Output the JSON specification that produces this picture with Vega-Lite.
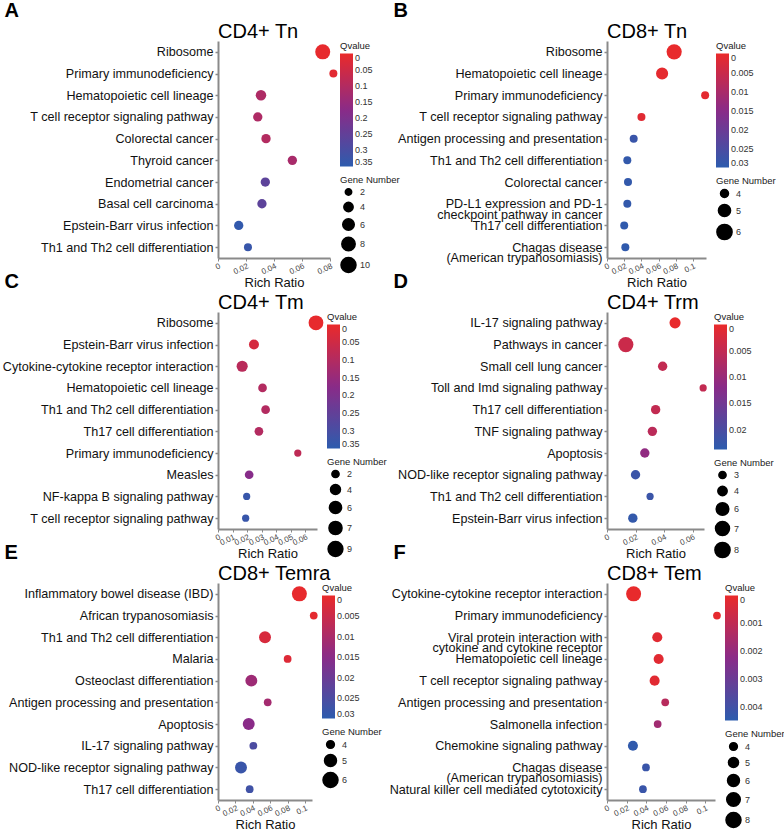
{
  "$schema": "https://vega.github.io/schema/vega-lite/v6.json",
  "padding": {"left": 2, "top": 0, "right": 0, "bottom": 0},
  "background": "white",
  "config": {
    "font": "Liberation Sans",
    "view": {"stroke": null},
    "title": {"font": "Liberation Sans", "color": "black", "fontSize": 20, "fontWeight": "normal", "anchor": "start", "frame": "group", "offset": -42},
    "axisY": {"domainColor": "#8a8a8a", "domainWidth": 2, "tickColor": "#8a8a8a", "tickSize": 3, "tickWidth": 1.5, "labelFontSize": 12.6, "labelColor": "#111", "labelPadding": 2, "labelLimit": 300, "grid": false, "labelLineHeight": 10.5},
    "axisX": {"domainColor": "#8a8a8a", "domainWidth": 2, "tickColor": "#8a8a8a", "tickSize": 3, "labelFontSize": 8, "labelColor": "#444", "labelAngle": -25, "labelPadding": 1, "titleFontSize": 13, "titleFontWeight": "normal", "titleColor": "#111", "titlePadding": 1, "grid": false, "labelFlush": false, "labelOverlap": false},
    "legend": {"titleFontSize": 9.5, "titleFontWeight": "normal", "titleColor": "#222", "labelFontSize": 9, "labelColor": "#333", "gradientThickness": 13, "symbolFillColor": "black", "symbolStrokeColor": "black", "symbolType": "circle", "symbolOpacity": 1, "labelOffset": 3, "titlePadding": 3, "padding": 0, "rowPadding": 0, "labelOverlap": false}
  },
  "datasets": {
    "A": [
      {"pathway": "Ribosome", "ratio": 0.0748, "qvalue": 0.005, "genes": 10},
      {"pathway": "Primary immunodeficiency", "ratio": 0.0824, "qvalue": 0.015, "genes": 3},
      {"pathway": "Hematopoietic cell lineage", "ratio": 0.0307, "qvalue": 0.11, "genes": 5},
      {"pathway": "T cell receptor signaling pathway", "ratio": 0.0284, "qvalue": 0.11, "genes": 4},
      {"pathway": "Colorectal cancer", "ratio": 0.0343, "qvalue": 0.10, "genes": 4},
      {"pathway": "Thyroid cancer", "ratio": 0.0531, "qvalue": 0.12, "genes": 4},
      {"pathway": "Endometrial cancer", "ratio": 0.0338, "qvalue": 0.26, "genes": 4},
      {"pathway": "Basal cell carcinoma", "ratio": 0.0314, "qvalue": 0.26, "genes": 4},
      {"pathway": "Epstein-Barr virus infection", "ratio": 0.0148, "qvalue": 0.34, "genes": 4},
      {"pathway": "Th1 and Th2 cell differentiation", "ratio": 0.0214, "qvalue": 0.33, "genes": 3}
    ],
    "B": [
      {"pathway": "Ribosome", "ratio": 0.078, "qvalue": 0.0003, "genes": 6},
      {"pathway": "Hematopoietic cell lineage", "ratio": 0.064, "qvalue": 0.0008, "genes": 5},
      {"pathway": "Primary immunodeficiency", "ratio": 0.114, "qvalue": 0.001, "genes": 4},
      {"pathway": "T cell receptor signaling pathway", "ratio": 0.040, "qvalue": 0.0015, "genes": 4},
      {"pathway": "Antigen processing and presentation", "ratio": 0.031, "qvalue": 0.028, "genes": 4},
      {"pathway": "Th1 and Th2 cell differentiation", "ratio": 0.0236, "qvalue": 0.029, "genes": 4},
      {"pathway": "Colorectal cancer", "ratio": 0.0244, "qvalue": 0.029, "genes": 4},
      {"pathway": "PD-L1 expression and PD-1\ncheckpoint pathway in cancer", "ratio": 0.0236, "qvalue": 0.029, "genes": 4},
      {"pathway": "Th17 cell differentiation", "ratio": 0.020, "qvalue": 0.0295, "genes": 4},
      {"pathway": "Chagas disease\n(American trypanosomiasis)", "ratio": 0.0213, "qvalue": 0.0295, "genes": 4}
    ],
    "C": [
      {"pathway": "Ribosome", "ratio": 0.0673, "qvalue": 0.005, "genes": 9},
      {"pathway": "Epstein-Barr virus infection", "ratio": 0.0247, "qvalue": 0.04, "genes": 4},
      {"pathway": "Cytokine-cytokine receptor interaction", "ratio": 0.0166, "qvalue": 0.09, "genes": 5},
      {"pathway": "Hematopoietic cell lineage", "ratio": 0.0306, "qvalue": 0.10, "genes": 3},
      {"pathway": "Th1 and Th2 cell differentiation", "ratio": 0.0327, "qvalue": 0.10, "genes": 3},
      {"pathway": "Th17 cell differentiation", "ratio": 0.0281, "qvalue": 0.10, "genes": 3},
      {"pathway": "Primary immunodeficiency", "ratio": 0.0548, "qvalue": 0.08, "genes": 2},
      {"pathway": "Measles", "ratio": 0.0214, "qvalue": 0.18, "genes": 3},
      {"pathway": "NF-kappa B signaling pathway", "ratio": 0.0197, "qvalue": 0.33, "genes": 2},
      {"pathway": "T cell receptor signaling pathway", "ratio": 0.019, "qvalue": 0.33, "genes": 2}
    ],
    "D": [
      {"pathway": "IL-17 signaling pathway", "ratio": 0.0477, "qvalue": 0.0003, "genes": 5},
      {"pathway": "Pathways in cancer", "ratio": 0.0132, "qvalue": 0.004, "genes": 8},
      {"pathway": "Small cell lung cancer", "ratio": 0.039, "qvalue": 0.005, "genes": 4},
      {"pathway": "Toll and Imd signaling pathway", "ratio": 0.0674, "qvalue": 0.005, "genes": 3},
      {"pathway": "Th17 cell differentiation", "ratio": 0.0341, "qvalue": 0.005, "genes": 4},
      {"pathway": "TNF signaling pathway", "ratio": 0.0318, "qvalue": 0.006, "genes": 4},
      {"pathway": "Apoptosis", "ratio": 0.0265, "qvalue": 0.011, "genes": 4},
      {"pathway": "NOD-like receptor signaling pathway", "ratio": 0.020, "qvalue": 0.022, "genes": 4},
      {"pathway": "Th1 and Th2 cell differentiation", "ratio": 0.0302, "qvalue": 0.022, "genes": 3},
      {"pathway": "Epstein-Barr virus infection", "ratio": 0.0181, "qvalue": 0.023, "genes": 4}
    ],
    "E": [
      {"pathway": "Inflammatory bowel disease (IBD)", "ratio": 0.0935, "qvalue": 0.0005, "genes": 6},
      {"pathway": "African trypanosomiasis", "ratio": 0.110, "qvalue": 0.001, "genes": 4},
      {"pathway": "Th1 and Th2 cell differentiation", "ratio": 0.054, "qvalue": 0.003, "genes": 5},
      {"pathway": "Malaria", "ratio": 0.080, "qvalue": 0.002, "genes": 4},
      {"pathway": "Osteoclast differentiation", "ratio": 0.0383, "qvalue": 0.012, "genes": 5},
      {"pathway": "Antigen processing and presentation", "ratio": 0.0571, "qvalue": 0.011, "genes": 4},
      {"pathway": "Apoptosis", "ratio": 0.0353, "qvalue": 0.015, "genes": 5},
      {"pathway": "IL-17 signaling pathway", "ratio": 0.0406, "qvalue": 0.025, "genes": 4},
      {"pathway": "NOD-like receptor signaling pathway", "ratio": 0.0264, "qvalue": 0.028, "genes": 5},
      {"pathway": "Th17 cell differentiation", "ratio": 0.0364, "qvalue": 0.027, "genes": 4}
    ],
    "F": [
      {"pathway": "Cytokine-cytokine receptor interaction", "ratio": 0.0271, "qvalue": 0.00005, "genes": 8},
      {"pathway": "Primary immunodeficiency", "ratio": 0.112, "qvalue": 0.0001, "genes": 4},
      {"pathway": "Viral protein interaction with\ncytokine and cytokine receptor", "ratio": 0.0512, "qvalue": 0.0002, "genes": 5},
      {"pathway": "Hematopoietic cell lineage", "ratio": 0.0526, "qvalue": 0.0002, "genes": 5},
      {"pathway": "T cell receptor signaling pathway", "ratio": 0.0485, "qvalue": 0.0002, "genes": 5},
      {"pathway": "Antigen processing and presentation", "ratio": 0.0593, "qvalue": 0.0012, "genes": 4},
      {"pathway": "Salmonella infection", "ratio": 0.0516, "qvalue": 0.0017, "genes": 4},
      {"pathway": "Chemokine signaling pathway", "ratio": 0.0264, "qvalue": 0.0044, "genes": 5},
      {"pathway": "Chagas disease\n(American trypanosomiasis)", "ratio": 0.0397, "qvalue": 0.0042, "genes": 4},
      {"pathway": "Natural killer cell mediated cytotoxicity", "ratio": 0.0366, "qvalue": 0.0042, "genes": 4}
    ]
  },
  "columns": 2,
  "bounds": "flush",
  "spacing": {"row": 54, "column": 277},
  "resolve": {"scale": {"color": "independent", "size": "independent"}},
  "concat": [
    {
      "title": "CD4+ Tn",
      "data": {"name": "A"},
      "width": 112, "height": 217,
      "encoding": {"y": {"field": "pathway", "type": "nominal", "sort": null, "axis": {"title": null, "labelExpr": "split(datum.label, '\\n')"}}},
      "layer": [
        {"mark": {"type": "circle", "opacity": 1},
         "encoding": {
          "x": {"field": "ratio", "type": "quantitative", "scale": {"domain": [0, 0.08], "nice": false}, "axis": {"title": "Rich Ratio", "values": [0, 0.02, 0.04, 0.06, 0.08], "format": ".2~g"}},
          "color": {"field": "qvalue", "type": "quantitative", "scale": {"domain": [0.35, 0.175, 0], "range": ["#2d5cae", "#8a2b88", "#ea2a2a"], "interpolate": "rgb", "nice": false, "zero": false}, "legend": {"title": "Qvalue", "values": [0, 0.05, 0.1, 0.15, 0.2, 0.25, 0.3, 0.35], "format": ".2~g", "gradientLength": 113, "offset": 10}},
          "size": {"field": "genes", "type": "quantitative", "scale": {"domain": [2, 10], "range": [41, 225], "zero": false, "nice": false}, "legend": {"title": "Gene Number", "values": [2, 4, 6, 8, 10], "format": "d", "offset": 1}}
         }},
        {"mark": {"type": "circle", "opacity": 0},
         "encoding": {"x": {"field": "ratio", "type": "quantitative", "axis": {"orient": "top", "title": "A", "labels": false, "ticks": false, "domain": false, "titleX": -214, "titleY": -41, "titleAlign": "left", "titleBaseline": "top", "titleAngle": 0, "titleFontSize": 20, "titleFontWeight": "bold", "titleColor": "black"}}}}
      ],
      "resolve": {"axis": {"x": "independent"}}
    },
    {
      "title": "CD8+ Tn",
      "data": {"name": "B"},
      "width": 99, "height": 217,
      "encoding": {"y": {"field": "pathway", "type": "nominal", "sort": null, "axis": {"title": null, "labelExpr": "split(datum.label, '\\n')"}}},
      "layer": [
        {"mark": {"type": "circle", "opacity": 1},
         "encoding": {
          "x": {"field": "ratio", "type": "quantitative", "scale": {"domain": [0, 0.115], "nice": false}, "axis": {"title": "Rich Ratio", "values": [0, 0.02, 0.04, 0.06, 0.08, 0.1], "format": ".2~g"}},
          "color": {"field": "qvalue", "type": "quantitative", "scale": {"domain": [0.03, 0.015, 0], "range": ["#2d5cae", "#8a2b88", "#ea2a2a"], "interpolate": "rgb", "nice": false, "zero": false}, "legend": {"title": "Qvalue", "values": [0, 0.005, 0.01, 0.015, 0.02, 0.025, 0.03], "format": ".2~g", "gradientLength": 114, "offset": 10}},
          "size": {"field": "genes", "type": "quantitative", "scale": {"domain": [4, 6], "range": [64, 231], "zero": false, "nice": false}, "legend": {"title": "Gene Number", "values": [4, 5, 6], "format": "d", "offset": 1}}
         }},
        {"mark": {"type": "circle", "opacity": 0},
         "encoding": {"x": {"field": "ratio", "type": "quantitative", "axis": {"orient": "top", "title": "B", "labels": false, "ticks": false, "domain": false, "titleX": -214, "titleY": -41, "titleAlign": "left", "titleBaseline": "top", "titleAngle": 0, "titleFontSize": 20, "titleFontWeight": "bold", "titleColor": "black"}}}}
      ],
      "resolve": {"axis": {"x": "independent"}}
    },
    {
      "title": "CD4+ Tm",
      "data": {"name": "C"},
      "width": 99, "height": 217,
      "encoding": {"y": {"field": "pathway", "type": "nominal", "sort": null, "axis": {"title": null, "labelExpr": "split(datum.label, '\\n')"}}},
      "layer": [
        {"mark": {"type": "circle", "opacity": 1},
         "encoding": {
          "x": {"field": "ratio", "type": "quantitative", "scale": {"domain": [0, 0.068], "nice": false}, "axis": {"title": "Rich Ratio", "values": [0, 0.01, 0.02, 0.03, 0.04, 0.05, 0.06], "format": ".2~g"}},
          "color": {"field": "qvalue", "type": "quantitative", "scale": {"domain": [0.35, 0.175, 0], "range": ["#2d5cae", "#8a2b88", "#ea2a2a"], "interpolate": "rgb", "nice": false, "zero": false}, "legend": {"title": "Qvalue", "values": [0, 0.05, 0.1, 0.15, 0.2, 0.25, 0.3, 0.35], "format": ".2~g", "gradientLength": 124, "offset": 10}},
          "size": {"field": "genes", "type": "quantitative", "scale": {"domain": [2, 9], "range": [52, 219], "zero": false, "nice": false}, "legend": {"title": "Gene Number", "values": [2, 4, 6, 7, 9], "format": "d", "offset": 1}}
         }},
        {"mark": {"type": "circle", "opacity": 0},
         "encoding": {"x": {"field": "ratio", "type": "quantitative", "axis": {"orient": "top", "title": "C", "labels": false, "ticks": false, "domain": false, "titleX": -214, "titleY": -41, "titleAlign": "left", "titleBaseline": "top", "titleAngle": 0, "titleFontSize": 20, "titleFontWeight": "bold", "titleColor": "black"}}}}
      ],
      "resolve": {"axis": {"x": "independent"}}
    },
    {
      "title": "CD4+ Trm",
      "data": {"name": "D"},
      "width": 97, "height": 217,
      "encoding": {"y": {"field": "pathway", "type": "nominal", "sort": null, "axis": {"title": null, "labelExpr": "split(datum.label, '\\n')"}}},
      "layer": [
        {"mark": {"type": "circle", "opacity": 1},
         "encoding": {
          "x": {"field": "ratio", "type": "quantitative", "scale": {"domain": [0, 0.068], "nice": false}, "axis": {"title": "Rich Ratio", "values": [0, 0.02, 0.04, 0.06], "format": ".2~g"}},
          "color": {"field": "qvalue", "type": "quantitative", "scale": {"domain": [0.0238, 0.0119, 0], "range": ["#2d5cae", "#8a2b88", "#ea2a2a"], "interpolate": "rgb", "nice": false, "zero": false}, "legend": {"title": "Qvalue", "values": [0, 0.005, 0.01, 0.015, 0.02], "format": ".2~g", "gradientLength": 125, "offset": 10}},
          "size": {"field": "genes", "type": "quantitative", "scale": {"domain": [3, 8], "range": [52, 231], "zero": false, "nice": false}, "legend": {"title": "Gene Number", "values": [3, 4, 6, 7, 8], "format": "d", "offset": 1}}
         }},
        {"mark": {"type": "circle", "opacity": 0},
         "encoding": {"x": {"field": "ratio", "type": "quantitative", "axis": {"orient": "top", "title": "D", "labels": false, "ticks": false, "domain": false, "titleX": -214, "titleY": -41, "titleAlign": "left", "titleBaseline": "top", "titleAngle": 0, "titleFontSize": 20, "titleFontWeight": "bold", "titleColor": "black"}}}}
      ],
      "resolve": {"axis": {"x": "independent"}}
    },
    {
      "title": "CD8+ Temra",
      "data": {"name": "E"},
      "width": 94, "height": 217,
      "encoding": {"y": {"field": "pathway", "type": "nominal", "sort": null, "axis": {"title": null, "labelExpr": "split(datum.label, '\\n')"}}},
      "layer": [
        {"mark": {"type": "circle", "opacity": 1},
         "encoding": {
          "x": {"field": "ratio", "type": "quantitative", "scale": {"domain": [0, 0.108], "nice": false}, "axis": {"title": "Rich Ratio", "values": [0, 0.02, 0.04, 0.06, 0.08, 0.1], "format": ".2~g"}},
          "color": {"field": "qvalue", "type": "quantitative", "scale": {"domain": [0.03, 0.015, 0], "range": ["#2d5cae", "#8a2b88", "#ea2a2a"], "interpolate": "rgb", "nice": false, "zero": false}, "legend": {"title": "Qvalue", "values": [0, 0.005, 0.01, 0.015, 0.02, 0.025, 0.03], "format": ".2~g", "gradientLength": 123, "offset": 10}},
          "size": {"field": "genes", "type": "quantitative", "scale": {"domain": [4, 6], "range": [60, 225], "zero": false, "nice": false}, "legend": {"title": "Gene Number", "values": [4, 5, 6], "format": "d", "offset": 1}}
         }},
        {"mark": {"type": "circle", "opacity": 0},
         "encoding": {"x": {"field": "ratio", "type": "quantitative", "axis": {"orient": "top", "title": "E", "labels": false, "ticks": false, "domain": false, "titleX": -214, "titleY": -41, "titleAlign": "left", "titleBaseline": "top", "titleAngle": 0, "titleFontSize": 20, "titleFontWeight": "bold", "titleColor": "black"}}}}
      ],
      "resolve": {"axis": {"x": "independent"}}
    },
    {
      "title": "CD8+ Tem",
      "data": {"name": "F"},
      "width": 108, "height": 217,
      "encoding": {"y": {"field": "pathway", "type": "nominal", "sort": null, "axis": {"title": null, "labelExpr": "split(datum.label, '\\n')"}}},
      "layer": [
        {"mark": {"type": "circle", "opacity": 1},
         "encoding": {
          "x": {"field": "ratio", "type": "quantitative", "scale": {"domain": [0, 0.11], "nice": false}, "axis": {"title": "Rich Ratio", "values": [0, 0.02, 0.04, 0.06, 0.08, 0.1], "format": ".2~g"}},
          "color": {"field": "qvalue", "type": "quantitative", "scale": {"domain": [0.0045, 0.00225, 0], "range": ["#2d5cae", "#8a2b88", "#ea2a2a"], "interpolate": "rgb", "nice": false, "zero": false}, "legend": {"title": "Qvalue", "values": [0, 0.001, 0.002, 0.003, 0.004], "format": ".2~g", "gradientLength": 125, "offset": 10}},
          "size": {"field": "genes", "type": "quantitative", "scale": {"domain": [4, 8], "range": [60, 225], "zero": false, "nice": false}, "legend": {"title": "Gene Number", "values": [4, 5, 6, 7, 8], "format": "d", "offset": 1}}
         }},
        {"mark": {"type": "circle", "opacity": 0},
         "encoding": {"x": {"field": "ratio", "type": "quantitative", "axis": {"orient": "top", "title": "F", "labels": false, "ticks": false, "domain": false, "titleX": -214, "titleY": -41, "titleAlign": "left", "titleBaseline": "top", "titleAngle": 0, "titleFontSize": 20, "titleFontWeight": "bold", "titleColor": "black"}}}}
      ],
      "resolve": {"axis": {"x": "independent"}}
    }
  ]
}
